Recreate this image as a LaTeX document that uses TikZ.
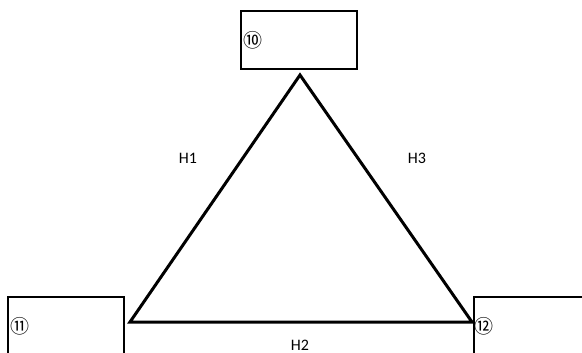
\documentclass[tikz,border=0pt]{standalone}
\usepackage{fontspec}
\setmainfont{Carlito}
\newfontfamily\circfont{Noto Sans CJK JP}
\usetikzlibrary{positioning}

\tikzset{
  numbox/.style={draw, line width=1.6pt, minimum width=116pt, minimum height=58pt,
    inner sep=0pt},
  numtxt/.style={anchor=west, inner sep=0pt, font=\circfont\fontsize{19}{19}\selectfont},
  side/.style={line width=3pt, line cap=round},
  hlabel/.style={font=\fontsize{16}{16}\selectfont}
}

\begin{document}
\begin{tikzpicture}[x=1pt, y=-1pt]
  \useasboundingbox (0,0) rectangle (582,353);
  \clip (0,0) rectangle (582,353);
  % boxes
  \node [numbox] (b10) at (299,40) {};
  \node [numbox] (b11) at (66,326) {};
  \node [numbox] (b12) at (532,326) {};
  \node [numtxt, right=3pt of b10.west] (n10) {⑩};
  \node [numtxt, right=3pt of b11.west] (n11) {⑪};
  \node [numtxt, right=1pt of b12.west] (n12) {⑫};
  % triangle
  \coordinate (top) at (300,75);
  \coordinate (left) at (130,322);
  \coordinate (right) at (472,322);
  \draw [side] (top) -- (left) -- (right) -- cycle;
  % labels
  \node [hlabel] (h1) at (188,158) {H1};
  \node [hlabel] (h3) at (417,158) {H3};
  \node [hlabel] (h2) at (300,345) {H2};
\end{tikzpicture}
\end{document}
